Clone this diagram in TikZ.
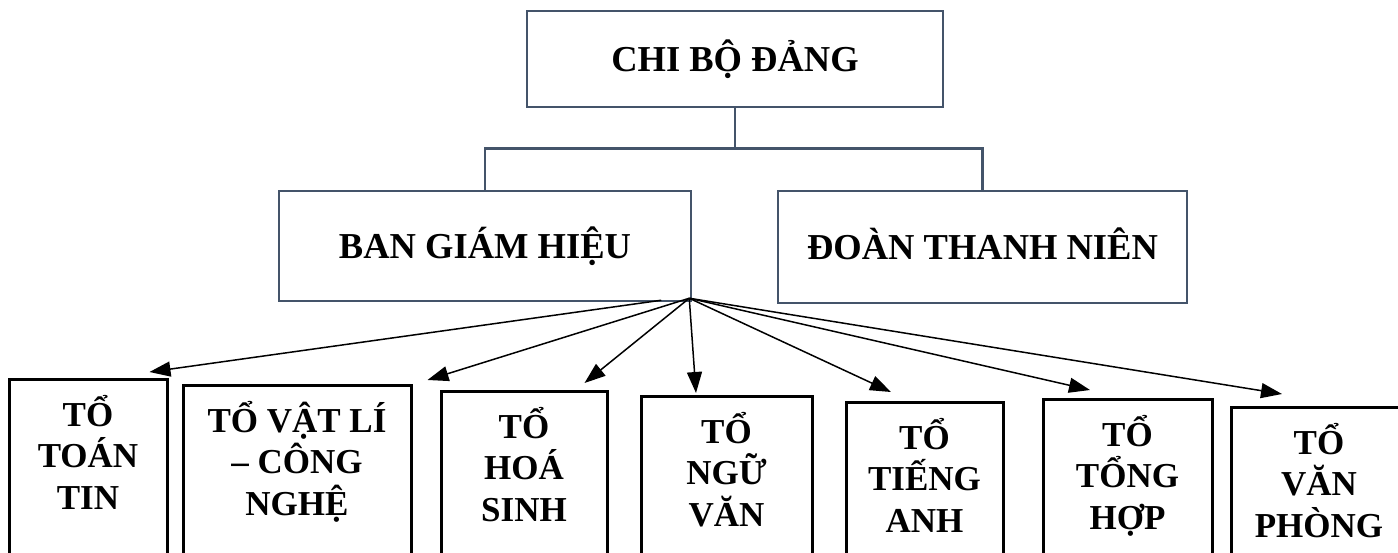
\documentclass[tikz,border=0pt]{standalone}
\usepackage{fontspec}
\setmainfont{Liberation Serif}
\usetikzlibrary{arrows.meta}
\definecolor{frameblue}{HTML}{44546A}
\tikzset{
  topbox/.style={draw=frameblue, line width=2.5pt, inner sep=0pt,
    text height=24pt, text depth=0pt,
    font=\fontsize{36.5}{40}\selectfont\bfseries},
  lowbox/.style={draw=black, line width=3pt, anchor=north, inner sep=0pt,
    minimum height=220pt},
  lowtext/.style={anchor=north, inner sep=0pt, align=center,
    font=\fontsize{35}{41.5}\selectfont\bfseries},
  tree/.style={draw=frameblue, line width=2.5pt},
  fan/.style={-{Triangle[length=21pt,width=15pt]}, line width=1.5pt}
}
\begin{document}
\begin{tikzpicture}[x=1pt, y=-1pt]
   \useasboundingbox (0,0) rectangle (1398,552);
   \clip (0,0) rectangle (1398,552);
   % upper level
   \node[topbox, minimum width=416pt, minimum height=96pt] (chibo) at (735,59) {CHI BỘ ĐẢNG};
   \node[topbox, minimum width=412pt, minimum height=110pt] (bgh) at (485,246) {BAN GIÁM HIỆU};
   \node[topbox, minimum width=409pt, minimum height=112pt] (doan) at (982.5,247) {ĐOÀN THANH NIÊN};
   \draw[tree] (chibo.south) -- ++(0,40) -| (bgh.north);
   \draw[tree] (chibo.south) -- ++(0,40) -| (doan.north);
   % the seven groups
   \node[lowbox, minimum width=158pt] (toan) at (88,378) {};
   \node[lowbox, minimum width=228pt] (vatli) at (297,384) {};
   \node[lowbox, minimum width=166pt] (hoa) at (524,390) {};
   \node[lowbox, minimum width=171pt] (nguvan) at (726.5,395) {};
   \node[lowbox, minimum width=157pt] (tienganh) at (924.5,401) {};
   \node[lowbox, minimum width=169pt] (tonghop) at (1127.5,398) {};
   \node[lowbox, minimum width=176pt] (vanphong) at (1319,406) {};
   \node[lowtext] (toant) at ([yshift=-17pt]toan.north) {TỔ\\TOÁN\\TIN};
   \node[lowtext] (vatlit) at ([yshift=-17pt]vatli.north) {TỔ VẬT LÍ\\– CÔNG\\NGHỆ};
   \node[lowtext] (hoat) at ([yshift=-17pt]hoa.north) {TỔ\\HOÁ\\SINH};
   \node[lowtext] (nguvant) at ([yshift=-17pt]nguvan.north) {TỔ\\NGỮ\\VĂN};
   \node[lowtext] (tienganht) at ([yshift=-17pt]tienganh.north) {TỔ\\TIẾNG\\ANH};
   \node[lowtext] (tonghopt) at ([yshift=-17pt]tonghop.north) {TỔ\\TỔNG\\HỢP};
   \node[lowtext] (vanphongt) at ([yshift=-17pt]vanphong.north) {TỔ\\VĂN\\PHÒNG};
   % arrows from the board
   \coordinate (hub) at ([xshift=-3pt,yshift=4pt]bgh.south east);
   \draw[fan] ([xshift=-31pt,yshift=2pt]bgh.south east) -- ([xshift=-19pt,yshift=6pt]toan.north east);
   \draw[fan] (hub) -- ([xshift=15pt,yshift=4pt]vatli.north east);
   \draw[fan] (hub) -- ([xshift=-24pt,yshift=7pt]hoa.north east);
   \draw[fan] (hub) -- ([xshift=-30.5pt,yshift=2pt]nguvan.north);
   \draw[fan] (hub) -- ([xshift=-33.5pt,yshift=9pt]tienganh.north);
   \draw[fan] (hub) -- ([xshift=-37.5pt,yshift=8pt]tonghop.north);
   \draw[fan] (hub) -- ([xshift=-37pt,yshift=12pt]vanphong.north);
\end{tikzpicture}
\end{document}
